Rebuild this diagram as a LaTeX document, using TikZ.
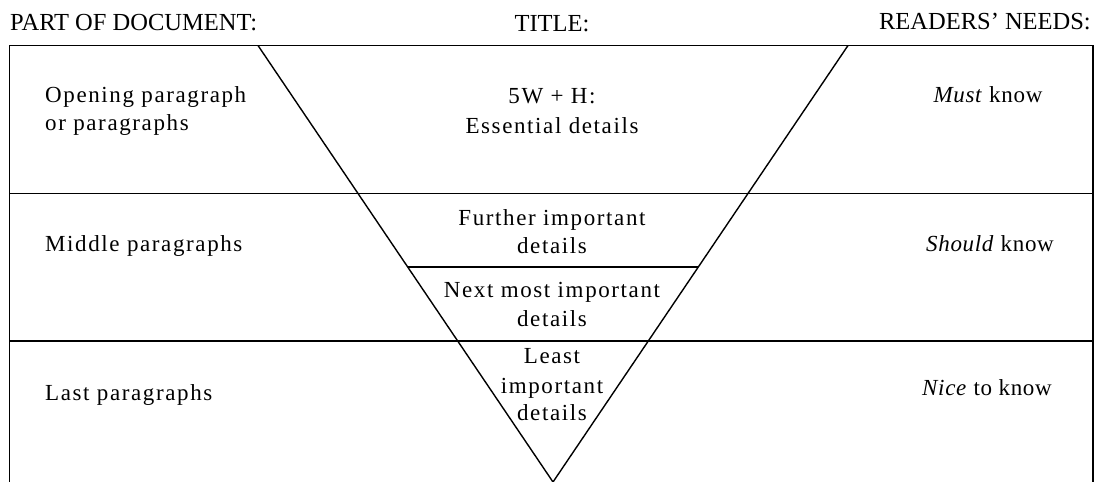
\documentclass[tikz,border=0pt]{standalone}
\usepackage{fontspec}
\setmainfont{Liberation Serif}
\newfontfamily\spaced[LetterSpace=7]{Liberation Serif}
\newfontfamily\lessspaced[LetterSpace=3]{Liberation Serif}
\usetikzlibrary{calc}
\tikzset{
  frame/.style={line width=1.7pt, black},
  diag/.style={line width=1.4pt, black},
  head/.style={inner sep=0pt, font=\fontsize{24.5}{28}\selectfont},
  body/.style={inner sep=0pt, font=\spaced\fontsize{23}{28}\selectfont},
  need/.style={inner sep=0pt, font=\lessspaced\fontsize{23}{28}\selectfont},
}
\begin{document}
\begin{tikzpicture}[x=1pt,y=-1pt]
\useasboundingbox (0,0) rectangle (1096,482);
% frame
\coordinate (bl) at (9.5,482);
\coordinate (tl) at (9.5,45.5);
\coordinate (tr) at (1093,45.5);
\coordinate (br) at (1093,482);
\draw[frame] (bl) -- (tl) -- (tr) -- (br);
\coordinate (m1l) at (9.5,193.5);
\coordinate (m1r) at (1093,193.5);
\coordinate (m2l) at (9.5,341);
\coordinate (m2r) at (1093,341);
\draw[frame] (m1l) -- (m1r);
\draw[frame] (m2l) -- (m2r);
% inverted triangle
\coordinate (A) at (258,45.5);
\coordinate (B) at (848,45.5);
\coordinate (C) at (553,482);
\draw[diag] (A) -- (C) -- (B);
\coordinate (il) at ($(A)!0.507!(C)$);
\coordinate (ir) at ($(B)!0.507!(C)$);
\draw[frame] (il) -- (ir);
% headers
\node[head, anchor=base west] (h1) at (10,30) {PART OF DOCUMENT:};
\node[head, anchor=base] (h2) at (552,31) {TITLE:};
\node[head, anchor=base east] (h3) at (1091,29) {READERS’ NEEDS:};
% left column
\node[body, anchor=base west] (l1a) at (45,102) {Opening paragraph};
\node[body, anchor=base west] (l1b) at (45,130) {or paragraphs};
\node[body, anchor=base west] (l2) at (45,251) {Middle paragraphs};
\node[body, anchor=base west] (l3) at (45,400) {Last paragraphs};
% centre column
\node[body, anchor=base] (c1a) at (552,103) {5W + H:};
\node[body, anchor=base] (c1b) at (552,133) {Essential details};
\node[body, anchor=base] (c2a) at (552,225) {Further important};
\node[body, anchor=base] (c2b) at (552,253) {details};
\node[body, anchor=base] (c3a) at (552,297) {Next most important};
\node[body, anchor=base] (c3b) at (552,326) {details};
\node[body, anchor=base] (c4a) at (552,363) {Least};
\node[body, anchor=base] (c4b) at (552,393) {important};
\node[body, anchor=base] (c4c) at (552,420) {details};
% right column
\node[need, anchor=base] (r1) at (988,102) {\textit{Must} know};
\node[need, anchor=base] (r2) at (990,251) {\textit{Should} know};
\node[need, anchor=base] (r3) at (987,395) {\textit{Nice} to know};
\end{tikzpicture}
\end{document}
